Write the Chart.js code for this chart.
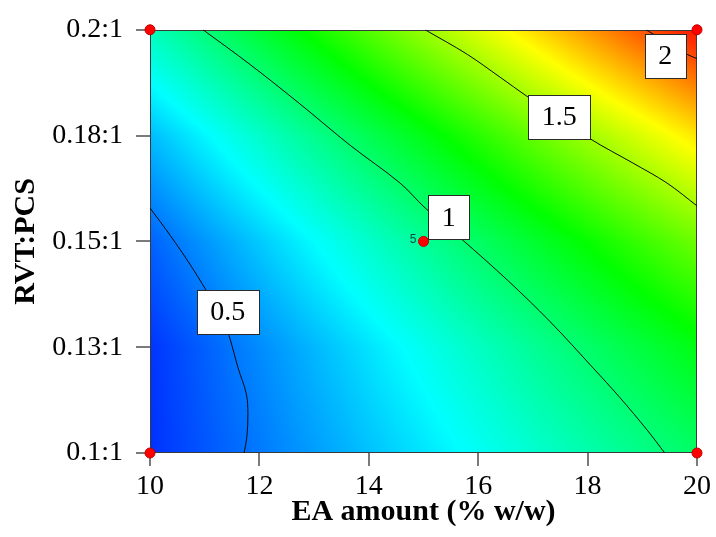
<!DOCTYPE html>
<html><head><meta charset="utf-8">
<script src="https://cdn.jsdelivr.net/npm/chart.js@4"></script>
<style>html,body{margin:0;padding:0;background:#fff;}#wrap{width:716px;height:537px;}</style>
</head><body><div id="wrap"><canvas id="c" width="716" height="537"></canvas></div>
<script>
// ---- data ----
const xTicks = [10, 12, 14, 16, 18, 20];
const yTickValues = [0.1, 0.125, 0.15, 0.175, 0.2];
const yTickLabels = ['0.1:1', '0.13:1', '0.15:1', '0.18:1', '0.2:1'];

// response surface values (rows: RVT:PCS, cols: EA amount)
const gridX = [10, 12, 14, 16, 18, 20];
const gridY = [0.1, 0.125, 0.15, 0.175, 0.2];
const gridZ = [
  [0.388, 0.519, 0.650, 0.780, 0.911, 1.042],
  [0.393, 0.553, 0.713, 0.873, 1.033, 1.193],
  [0.477, 0.666, 0.855, 1.045, 1.234, 1.423],
  [0.640, 0.858, 1.077, 1.295, 1.514, 1.732],
  [0.882, 1.130, 1.377, 1.625, 1.872, 2.120]
];

const contour05 = [
  {x:10.00,y:0.1579},{x:10.37,y:0.1514},{x:10.73,y:0.1446},{x:11.01,y:0.1388},
  {x:11.27,y:0.1330},{x:11.43,y:0.1283},{x:11.61,y:0.1201},{x:11.76,y:0.1140},
  {x:11.79,y:0.1093},{x:11.77,y:0.1037},{x:11.72,y:0.1000}
];
const contour1 = [
  {x:10.97,y:0.2000},{x:11.83,y:0.1918},{x:12.74,y:0.1825},{x:13.66,y:0.1727},
  {x:14.57,y:0.1638},{x:15.03,y:0.1579},{x:15.70,y:0.1505},{x:16.53,y:0.1409},
  {x:17.31,y:0.1311},{x:18.10,y:0.1201},{x:18.59,y:0.1131},{x:19.09,y:0.1054},
  {x:19.41,y:0.1000}
];
const contour15 = [
  {x:15.03,y:0.2000},{x:15.80,y:0.1942},{x:16.40,y:0.1888},{x:16.89,y:0.1843},
  {x:18.04,y:0.1743},{x:18.83,y:0.1685},{x:19.45,y:0.1638},{x:20.00,y:0.1584}
];
const contour2 = [
  {x:19.07,y:0.2000},{x:19.82,y:0.1942},{x:20.00,y:0.1932}
];
const contourLabels = [
  {x:11.42, y:0.1334, text:'0.5'},
  {x:15.46, y:0.1557, text:'1'},
  {x:17.48, y:0.1794, text:'1.5'},
  {x:19.42, y:0.1939, text:'2'}
];
const designPoints = [
  {x:10, y:0.1}, {x:10, y:0.2}, {x:20, y:0.1}, {x:20, y:0.2}, {x:15, y:0.15}
];
const replicateLabels = [{x:15, y:0.15, text:'5'}];

const colorMin = 0.3, colorMax = 2.15;

// ---- helpers ----
function interpGrid(x, y) {
  let i = 0; while (i < gridX.length - 2 && x > gridX[i+1]) i++;
  let j = 0; while (j < gridY.length - 2 && y > gridY[j+1]) j++;
  const tx = Math.min(1, Math.max(0, (x - gridX[i]) / (gridX[i+1] - gridX[i])));
  const ty = Math.min(1, Math.max(0, (y - gridY[j]) / (gridY[j+1] - gridY[j])));
  const z00 = gridZ[j][i], z10 = gridZ[j][i+1], z01 = gridZ[j+1][i], z11 = gridZ[j+1][i+1];
  return (z00*(1-tx) + z10*tx)*(1-ty) + (z01*(1-tx) + z11*tx)*ty;
}
const stops = [[0,0,0,255],[0.25,0,255,255],[0.5,0,255,0],[0.75,255,255,0],[1,255,0,0]];
function cmap(v) {
  let t = (v - colorMin) / (colorMax - colorMin);
  t = Math.min(1, Math.max(0, t));
  for (let k = 0; k < stops.length - 1; k++) {
    const a = stops[k], b = stops[k+1];
    if (t <= b[0]) {
      const u = (t - a[0]) / (b[0] - a[0]);
      return [a[1]+(b[1]-a[1])*u, a[2]+(b[2]-a[2])*u, a[3]+(b[3]-a[3])*u];
    }
  }
  return [255,0,0];
}

const fieldPlugin = {
  id: 'field',
  beforeDatasetsDraw(chart) {
    const {ctx, chartArea: a, scales: {x: xs, y: ys}} = chart;
    const w = Math.round(a.right - a.left), h = Math.round(a.bottom - a.top);
    const img = ctx.createImageData(w, h);
    for (let py = 0; py < h; py++) {
      const yv = ys.getValueForPixel(a.top + py + 0.5);
      for (let px = 0; px < w; px++) {
        const xv = xs.getValueForPixel(a.left + px + 0.5);
        const c = cmap(interpGrid(xv, yv));
        const o = (py * w + px) * 4;
        img.data[o] = c[0]; img.data[o+1] = c[1]; img.data[o+2] = c[2]; img.data[o+3] = 255;
      }
    }
    ctx.putImageData(img, Math.round(a.left), Math.round(a.top));
    ctx.save();
    ctx.strokeStyle = '#3a3a3a';
    ctx.lineWidth = 1;
    ctx.strokeRect(Math.round(a.left) + 0.5, Math.round(a.top) + 0.5, w - 1, h - 1);
    ctx.restore();
  },
  afterDatasetsDraw(chart) {
    const {ctx, scales: {x: xs, y: ys}} = chart;
    ctx.save();
    ctx.font = '28px "Liberation Serif"';
    ctx.textAlign = 'center';
    ctx.textBaseline = 'middle';
    contourLabels.forEach(l => {
      const px = xs.getPixelForValue(l.x), py = ys.getPixelForValue(l.y);
      const tw = ctx.measureText(l.text).width;
      const bw = Math.round(tw + 27), bh = 44;
      const bx = Math.round(px - bw/2) + 0.5, by = Math.round(py - bh/2) + 0.5;
      ctx.fillStyle = '#ffffff';
      ctx.fillRect(bx, by, bw, bh);
      ctx.strokeStyle = '#2a2a2a';
      ctx.lineWidth = 1;
      ctx.strokeRect(bx, by, bw, bh);
      ctx.fillStyle = '#000000';
      ctx.fillText(l.text, px, py + 1);
    });
    ctx.font = '12px "Liberation Sans"';
    ctx.fillStyle = '#0a4a4a';
    ctx.textAlign = 'right';
    replicateLabels.forEach(l => {
      const px = xs.getPixelForValue(l.x), py = ys.getPixelForValue(l.y);
      ctx.fillText(l.text, px - 7, py - 2);
    });
    ctx.restore();
  }
};

function contourDs(data) {
  return {type: 'line', data, showLine: true, pointRadius: 0, borderColor: '#0a0a0a',
    borderWidth: 1, tension: 0.35, fill: false, order: 2};
}

new Chart(document.getElementById('c'), {
  type: 'scatter',
  data: {
    datasets: [
      {data: designPoints, pointRadius: 5, pointHoverRadius: 5, backgroundColor: '#ff0000',
       borderColor: '#c00000', borderWidth: 1, clip: false, order: 0},
      contourDs(contour05), contourDs(contour1), contourDs(contour15), contourDs(contour2)
    ]
  },
  options: {
    responsive: false,
    animation: false,
    layout: {padding: {top: 25, right: 19, left: 0, bottom: 0}},
    plugins: {legend: {display: false}, tooltip: {enabled: false}},
    scales: {
      x: {
        type: 'linear', min: 10, max: 20,
        afterBuildTicks: s => { s.ticks = xTicks.map(v => ({value: v})); },
        afterFit: s => { s.height = 84; },
        border: {display: false},
        grid: {drawOnChartArea: false, drawTicks: true, tickLength: 13, color: '#7a7a7a', lineWidth: 2},
        ticks: {color: '#000', padding: 4, font: {family: '"Liberation Serif"', size: 28}, maxRotation: 0},
        title: {display: true, text: 'EA amount (% w/w)', color: '#000',
          font: {family: '"Liberation Serif"', size: 30, weight: 'bold'}, padding: {top: 0, bottom: 7}}
      },
      y: {
        type: 'linear', min: 0.1, max: 0.2,
        afterBuildTicks: s => { s.ticks = yTickValues.map(v => ({value: v})); },
        afterFit: s => { s.width = 150; },
        border: {display: false},
        grid: {drawOnChartArea: false, drawTicks: true, tickLength: 14, color: '#7a7a7a', lineWidth: 2},
        ticks: {color: '#000', padding: 13, font: {family: '"Liberation Serif"', size: 28},
          callback: (v) => { const k = yTickValues.findIndex(t => Math.abs(t - v) < 1e-9); return k >= 0 ? yTickLabels[k] : ''; }},
        title: {display: true, text: 'RVT:PCS', color: '#000',
          font: {family: '"Liberation Serif"', size: 30, weight: 'bold'}, padding: {top: 8, bottom: 0}}
      }
    }
  },
  plugins: [fieldPlugin]
});
</script>
</body></html>
